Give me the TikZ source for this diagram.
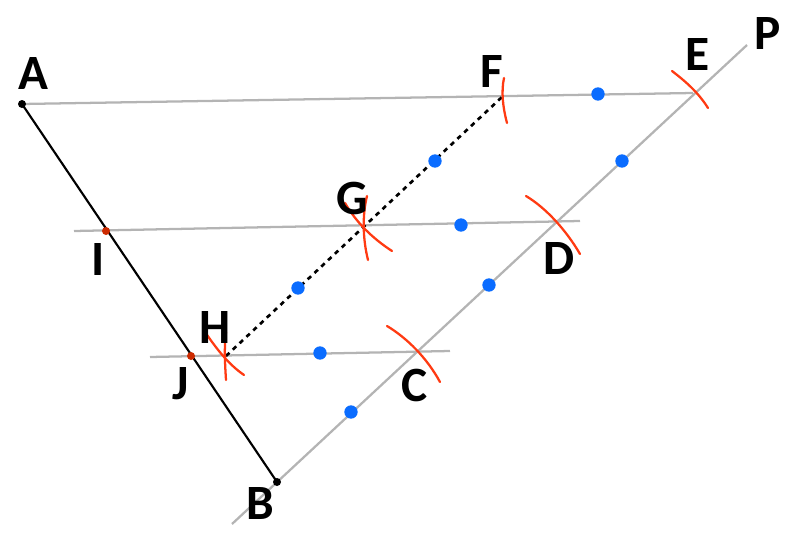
\documentclass[tikz,border=0pt]{standalone}
\usepackage{fontspec}
\setmainfont{Carlito}
\definecolor{guide}{HTML}{B4B4B4}
\definecolor{arcred}{HTML}{FF3A12}
\definecolor{dotblue}{HTML}{0A6CFF}
\definecolor{dotred}{HTML}{CC2A00}
\tikzset{
  guideline/.style={draw=guide,line width=1.7pt},
  segline/.style={draw=black,line width=1.6pt},
  dottedline/.style={draw=black,line width=2pt,dash pattern=on 3.5pt off 3.5pt},
  arcmark/.style={draw=arcred,line width=1.7pt,line cap=round},
  bluedot/.style={circle,fill=dotblue,inner sep=0pt,minimum size=10pt},
  reddot/.style={circle,fill=dotred,inner sep=0pt,minimum size=6pt},
  blackdot/.style={circle,fill=black,inner sep=0pt,minimum size=6pt},
  lab/.style={font=\fontsize{37pt}{37pt}\selectfont\bfseries,text=black,inner sep=0pt,anchor=center}
}
\begin{document}
\begin{tikzpicture}[x=0.75pt,y=-0.75pt]
\useasboundingbox (0,0) rectangle (800,546);
\coordinate (pA) at (22,104);
\coordinate (pB) at (277,482);
\coordinate (pE) at (693,93);
\coordinate (pF) at (502,97);
\coordinate (pH) at (226,356);
\coordinate (lo) at (232,524);
\coordinate (hi) at (747,45);
\coordinate (iL) at (74,231);
\coordinate (iR) at (580,221);
\coordinate (jL) at (150,357);
\coordinate (jR) at (450,351);
% guide lines
\draw[guideline] (pA) -- (pE);
\draw[guideline] (lo) -- (hi);
\draw[guideline] (iL) -- (iR);
\draw[guideline] (jL) -- (jR);
\draw[segline] (pA) -- (pB);
\draw[dottedline] (pH) -- (pF);
% arcs
\draw[arcmark] (672,71) .. controls (685,81) and (698,92) .. (708,108);
\draw[arcmark] (504,78) .. controls (501,92) and (503,108) .. (507,123);
\draw[arcmark] (345,203) .. controls (356,222) and (372,238) .. (392,251);
\draw[arcmark] (367,196) .. controls (362,216) and (363,240) .. (368,260);
\draw[arcmark] (526,196) .. controls (546,208) and (566,230) .. (580,254);
\draw[arcmark] (387,326) .. controls (407,338) and (427,358) .. (440,382);
\draw[arcmark] (205,332) .. controls (216,348) and (228,364) .. (244,375);
\draw[arcmark] (226,332) .. controls (224,348) and (225,364) .. (226,380);
% dots
\node[blackdot] (dA) at (pA) {};
\node[blackdot] (dB) at (pB) {};
\node[reddot] (dI) at (106,231) {};
\node[reddot] (dJ) at (191,356) {};
\node[bluedot] (b1) at (598,94) {};
\node[bluedot] (b2) at (622,161) {};
\node[bluedot] (b3) at (489,285) {};
\node[bluedot] (b4) at (351,412) {};
\node[bluedot] (b5) at (435,161) {};
\node[bluedot] (b6) at (298,288) {};
\node[bluedot] (b7) at (461,225) {};
\node[bluedot] (b8) at (320,353) {};
% labels
\node[lab] (lA) at (33,74) {A};
\node[lab] (lF) at (492,72) {F};
\node[lab] (lE) at (698,55) {E};
\node[lab] (lP) at (768,34) {P};
\node[lab] (lG) at (352,198) {G};
\node[lab] (lD) at (559,259) {D};
\node[lab] (lI) at (98,260) {I};
\node[lab] (lH) at (215,328) {H};
\node[lab] (lJ) at (181,384) {J};
\node[lab] (lC) at (415,385) {C};
\node[lab] (lB) at (260,503) {B};
\end{tikzpicture}
\end{document}
